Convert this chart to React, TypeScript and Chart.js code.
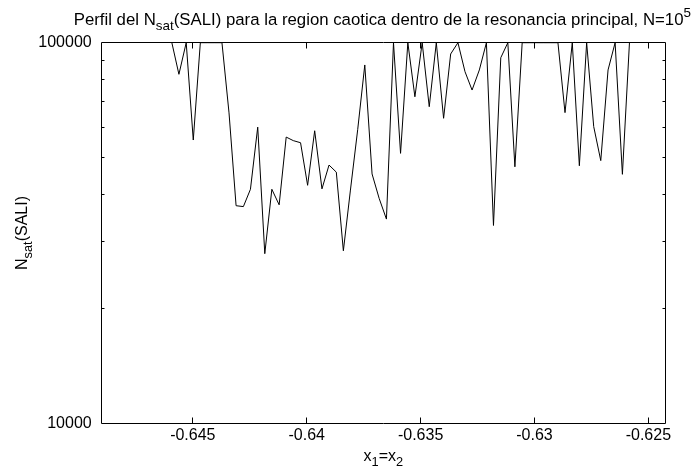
import React, { useEffect, useRef } from "react";
import { Chart, registerables } from "chart.js";

Chart.register(...registerables);

// x positions (x1 = x2)
const X_VALUES = [
  -0.64592, -0.64561, -0.64529, -0.64498, -0.64467, -0.64435, -0.64404, -0.64372,
  -0.64341, -0.6431, -0.64278, -0.64247, -0.64215, -0.64184, -0.64153, -0.64121,
  -0.6409, -0.64059, -0.64027, -0.63996, -0.63965, -0.63933, -0.63902, -0.6387,
  -0.63839, -0.63808, -0.63776, -0.63745, -0.63713, -0.63682, -0.6365, -0.63619,
  -0.63588, -0.63556, -0.63525, -0.63493, -0.63462, -0.63431, -0.63399, -0.63368,
  -0.63336, -0.63305, -0.63274, -0.63242, -0.63211, -0.6318, -0.63148, -0.63117,
  -0.63086, -0.63054, -0.63023, -0.62991, -0.6296, -0.62929, -0.62897, -0.62866,
  -0.62834, -0.62803, -0.62771, -0.6274, -0.62709, -0.62677, -0.62646, -0.62614,
  -0.62583,
];

// N_sat(SALI) values
const NSAT_VALUES = [
  100000, 82600, 100000, 55500, 100000, 100000, 100000, 100000,
  65400, 37300, 37100, 41200, 60000, 27900, 41200, 37500,
  56500, 55300, 54600, 42200, 58700, 41300, 47700, 45700,
  28400, 41000, 59200, 87400, 45200, 39000, 34400, 100000,
  51200, 100000, 72100, 100000, 67900, 100000, 63300, 93400,
  100000, 83900, 75100, 84800, 100000, 33100, 91300, 100000,
  47200, 100000, 100000, 100000, 100000, 100000, 100000, 65500,
  100000, 47500, 100000, 60200, 49000, 84800, 100000, 45100,
  100000,
];

const X_TICKS = [-0.645, -0.64, -0.635, -0.63, -0.625];
const Y_TICKS = [10000, 100000];
const Y_MINOR_TICKS = [20000, 30000, 40000, 50000, 60000, 70000, 80000, 90000];
const X_MIN = -0.649;
const X_MAX = -0.62427;
const Y_MIN = 10000;
const Y_MAX = 100000;

const TITLE_PARTS: [string, string][] = [
  ["n", "Perfil del N"],
  ["sub", "sat"],
  ["n", "(SALI) para la region caotica dentro de la resonancia principal, N=10"],
  ["sup", "5"],
];
const XLABEL_PARTS: [string, string][] = [
  ["n", "x"],
  ["sub", "1"],
  ["n", "=x"],
  ["sub", "2"],
];
const YLABEL_PARTS: [string, string][] = [
  ["n", "N"],
  ["sub", "sat"],
  ["n", "(SALI)"],
];

const FONT_FAMILY = '"Liberation Sans", Arial, Helvetica, sans-serif';
const FONT_SIZE = 16;

function drawRich(
  ctx: CanvasRenderingContext2D,
  parts: [string, string][],
  cx: number,
  baseline: number,
  size: number
) {
  const fontFor = (mode: string) => `${mode === "n" ? size : size * 0.8}px ${FONT_FAMILY}`;
  let total = 0;
  for (const [mode, text] of parts) {
    ctx.font = fontFor(mode);
    total += ctx.measureText(text).width;
  }
  let x = cx - total / 2;
  ctx.textAlign = "left";
  ctx.textBaseline = "alphabetic";
  for (const [mode, text] of parts) {
    ctx.font = fontFor(mode);
    let dy = 0;
    if (mode === "sub") dy = size * 0.3;
    if (mode === "sup") dy = -size * 0.45;
    ctx.fillText(text, x, baseline + dy);
    x += ctx.measureText(text).width;
  }
}

const framePlugin = {
  id: "gnuplotFrame",
  afterDraw(chart: any) {
    const ctx: CanvasRenderingContext2D = chart.ctx;
    const area = chart.chartArea;
    const xs = chart.scales.x;
    const ys = chart.scales.y;
    const l = Math.floor(area.left) + 0.5;
    const r = Math.floor(area.right) + 0.5;
    const t = Math.floor(area.top) + 0.5;
    const b = Math.floor(area.bottom) + 0.5;
    ctx.save();
    ctx.strokeStyle = "#000";
    ctx.lineWidth = 1;
    ctx.beginPath();
    ctx.rect(l, t, r - l, b - t);
    // x major ticks, inward, mirrored
    for (const v of X_TICKS) {
      const px = Math.floor(xs.getPixelForValue(v)) + 0.5;
      ctx.moveTo(px, b);
      ctx.lineTo(px, b - 6);
      ctx.moveTo(px, t);
      ctx.lineTo(px, t + 6);
    }
    // y minor ticks, inward, mirrored
    for (const v of Y_MINOR_TICKS) {
      const py = Math.floor(ys.getPixelForValue(v)) + 0.5;
      ctx.moveTo(l, py);
      ctx.lineTo(l + 3, py);
      ctx.moveTo(r, py);
      ctx.lineTo(r - 3, py);
    }
    ctx.stroke();

    ctx.fillStyle = "#000";
    const cx = (area.left + area.right) / 2;
    drawRich(ctx, TITLE_PARTS, cx - 1, 25, 16.8);
    drawRich(ctx, XLABEL_PARTS, cx, 461, FONT_SIZE);
    ctx.save();
    ctx.translate(27, (area.top + area.bottom) / 2);
    ctx.rotate(-Math.PI / 2);
    drawRich(ctx, YLABEL_PARTS, 0, 0, FONT_SIZE);
    ctx.restore();
    ctx.restore();
  },
};

export default function App() {
  const ref = useRef<HTMLCanvasElement>(null);
  useEffect(() => {
    if (!ref.current) return;
    const chart = new Chart(ref.current, {
      type: "line",
      data: {
        datasets: [
          {
            data: X_VALUES.map((x, i) => ({ x, y: NSAT_VALUES[i] })),
            borderColor: "#000",
            borderWidth: 1,
            pointRadius: 0,
            tension: 0,
            fill: false,
          },
        ],
      },
      options: {
        animation: false,
        responsive: false,
        devicePixelRatio: 1,
        layout: { padding: { top: 42.7, right: 31, left: 0, bottom: 0 } },
        plugins: {
          legend: { display: false },
          tooltip: { enabled: false },
          title: { display: false },
        },
        scales: {
          x: {
            type: "linear",
            min: X_MIN,
            max: X_MAX,
            grid: { display: false, drawTicks: false },
            border: { display: false },
            afterBuildTicks: (scale: any) => {
              scale.ticks = X_TICKS.map((v) => ({ value: v }));
            },
            afterFit: (scale: any) => {
              scale.height = 43.7;
            },
            ticks: {
              autoSkip: false,
              maxRotation: 0,
              minRotation: 0,
              padding: 3,
              color: "#000",
              font: { family: FONT_FAMILY, size: FONT_SIZE },
              callback: (v: any) => String(v),
            },
          },
          y: {
            type: "logarithmic",
            min: Y_MIN,
            max: Y_MAX,
            grid: { display: false, drawTicks: false },
            border: { display: false },
            afterBuildTicks: (scale: any) => {
              scale.ticks = Y_TICKS.map((v) => ({ value: v }));
            },
            afterFit: (scale: any) => {
              scale.width = 101.7;
            },
            ticks: {
              autoSkip: false,
              padding: 10,
              color: "#000",
              font: { family: FONT_FAMILY, size: FONT_SIZE },
              callback: (v: any) => String(v),
            },
          },
        },
      },
      plugins: [framePlugin],
    } as any);
    return () => chart.destroy();
  }, []);
  return (
    <div style={{ position: "absolute", left: 0, top: 0, width: 696, height: 467, background: "#fff" }}>
      <canvas ref={ref} width={696} height={467} style={{ display: "block", width: 696, height: 467 }} />
    </div>
  );
}
